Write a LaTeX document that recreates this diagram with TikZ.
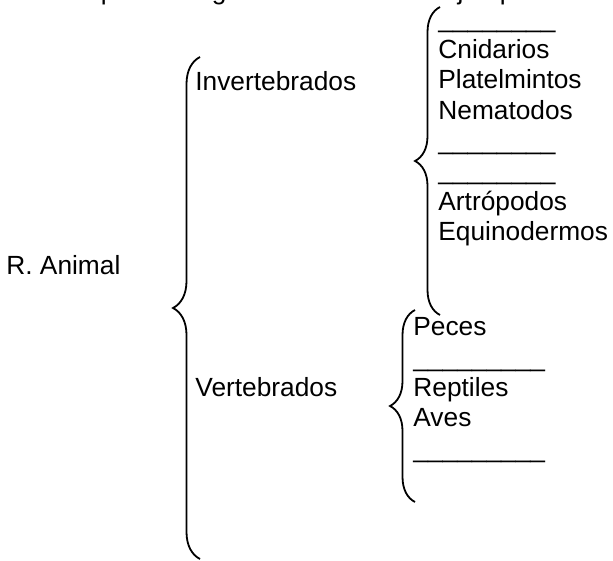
\documentclass[tikz,border=0pt]{standalone}
\usepackage{fontspec}
\setmainfont{Liberation Sans}
\usetikzlibrary{decorations.pathreplacing}

\begin{document}
\begin{tikzpicture}[x=0.5pt, y=-0.5pt,
  txt/.style={anchor=base west, inner sep=0pt, font=\fontsize{13.15}{15.15}\selectfont},
  curly/.style={decorate, decoration={brace, amplitude=#1}, line width=0.9pt}]
\useasboundingbox (0,0) rectangle (613,560);
% title line, cut off by the page edge
\node[txt] (title) at (45,-0.5) {Completa el siguiente cuadro con ejemplos};
% kingdom
\node[txt] (reino) at (6,274) {R. Animal};
\coordinate (b1bot) at (200,559);
\coordinate (b1top) at (200,57);
\draw[curly=13.5pt] (b1bot) -- (b1top);
\node[txt] (inv) at (195,91) {Invertebrados};
\node[txt] (vert) at (195,396) {Vertebrados};
% invertebrates
\coordinate (b2bot) at (440,315);
\coordinate (b2top) at (440,7);
\draw[curly=12.5pt] (b2bot) -- (b2top);
\node[txt] (inv1) at (438,28) {\_\_\_\_\_\_\_\_};
\node[txt] (inv2) at (438,58.5) {Cnidarios};
\node[txt] (inv3) at (438,88.8) {Platelmintos};
\node[txt] (inv4) at (438,119.1) {Nematodos};
\node[txt] (inv5) at (438,149.5) {\_\_\_\_\_\_\_\_};
\node[txt] (inv6) at (438,179.8) {\_\_\_\_\_\_\_\_};
\node[txt] (inv7) at (438,210.2) {Artrópodos};
\node[txt] (inv8) at (438,240.5) {Equinodermos};
% vertebrates
\coordinate (b3bot) at (415,502);
\coordinate (b3top) at (415,310);
\draw[curly=12.5pt] (b3bot) -- (b3top);
\node[txt] (vert1) at (413,335.5) {Peces};
\node[txt] (vert2) at (413,366) {\_\_\_\_\_\_\_\_\_};
\node[txt] (vert3) at (413,396.4) {Reptiles};
\node[txt] (vert4) at (413,426.8) {Aves};
\node[txt] (vert5) at (413,457.5) {\_\_\_\_\_\_\_\_\_};
\end{tikzpicture}
\end{document}
